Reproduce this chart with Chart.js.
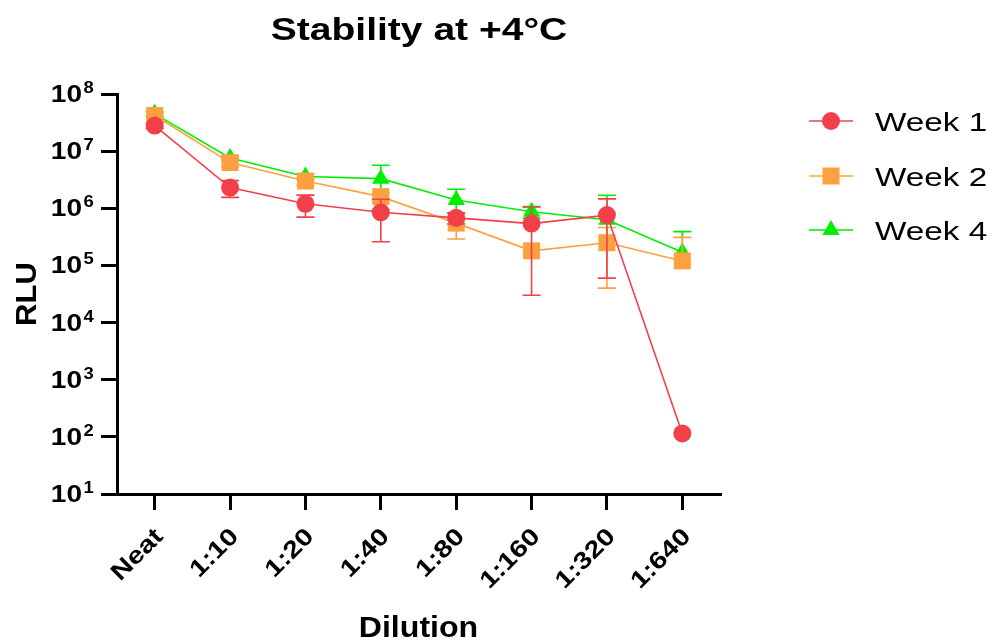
<!DOCTYPE html>
<html>
<head>
<meta charset="utf-8">
<script src="https://cdn.jsdelivr.net/npm/chart.js@4.4.1/dist/chart.umd.min.js"></script>
<style>
  html, body { margin: 0; padding: 0; background: #ffffff; }
  #wrap { width: 993px; height: 643px; position: relative; }
</style>
</head>
<body>
<div id="wrap"><canvas id="c"></canvas></div>
<script>
// ---- data ----
const categories = ['Neat', '1:10', '1:20', '1:40', '1:80', '1:160', '1:320', '1:640'];
const seriesNames = ['Week 1', 'Week 2', 'Week 4'];
const week1 = [2.8e7, 2.3e6, 1.2e6, 8.5e5, 6.8e5, 5.4e5, 7.6e5, 115];
const week1SD = [3e6, 7.5e5, 5e5, 5.9e5, 1.5e5, 5.1e5, 7.0e5, 0];
const week2 = [4.2e7, 6.3e6, 3.0e6, 1.6e6, 5.5e5, 1.8e5, 2.5e5, 1.2e5];
const week2SD = [4e6, 1e6, 5e5, 3e5, 2.6e5, 0, 2.1e5, 1.9e5];
const week4 = [4.5e7, 7.6e6, 3.6e6, 3.3e6, 1.4e6, 8.7e5, 6.3e5, 1.7e5];
const week4SD = [4e6, 5e5, 4e5, 2.35e6, 7.5e5, 2e5, 1.06e6, 2.2e5];
const yTickExponents = [1, 2, 3, 4, 5, 6, 7, 8];
const titleText = 'Stability at +4\u00B0C';
const xTitle = 'Dilution';
const yTitle = 'RLU';

const colors = ['#F2404A', '#FFA040', '#00EE00'];
const styles = ['circle', 'rect', 'triangle'];
const radii = [9, 12, 10];
const sds = [week1SD, week2SD, week4SD];

const FONT = "'Liberation Sans', Arial, sans-serif";

function drawText(ctx, text, x, y, o) {
  ctx.save();
  ctx.translate(x, y);
  if (o.rot) ctx.rotate(o.rot);
  ctx.scale(o.sx || 1, 1);
  ctx.font = o.font;
  ctx.fillStyle = o.color || '#000';
  ctx.textAlign = o.align || 'left';
  ctx.textBaseline = o.baseline || 'alphabetic';
  ctx.fillText(text, 0, 0);
  ctx.restore();
}

const errorBars = {
  id: 'errorBars',
  beforeDatasetDraw(chart, args) {
    const i = args.index;
    const ctx = chart.ctx;
    const meta = chart.getDatasetMeta(i);
    const ys = chart.scales.y;
    const data = chart.data.datasets[i].data;
    ctx.save();
    ctx.strokeStyle = colors[i];
    ctx.lineWidth = 1.6;
    const cap = 9;
    meta.data.forEach((pt, j) => {
      const m = data[j], sd = sds[i][j];
      if (!sd) return;
      const x = pt.x, y = pt.y;
      const yHi = ys.getPixelForValue(m + sd);
      ctx.beginPath();
      ctx.moveTo(x, y); ctx.lineTo(x, yHi);
      ctx.moveTo(x - cap, yHi); ctx.lineTo(x + cap, yHi);
      if (m - sd > 0) {
        const yLo = ys.getPixelForValue(m - sd);
        ctx.moveTo(x, y); ctx.lineTo(x, yLo);
        ctx.moveTo(x - cap, yLo); ctx.lineTo(x + cap, yLo);
      }
      ctx.stroke();
    });
    ctx.restore();
  }
};

const texts = {
  id: 'texts',
  afterDraw(chart) {
    const ctx = chart.ctx;
    const ca = chart.chartArea;
    const xs = chart.scales.x, ys = chart.scales.y;
    // title
    drawText(ctx, titleText, 419, 40, { font: 'bold 32px ' + FONT, align: 'center', sx: 1.22 });
    // y tick labels
    yTickExponents.forEach(e => {
      const y = ys.getPixelForValue(Math.pow(10, e));
      drawText(ctx, '10', 82, y + 8, { font: 'bold 23px ' + FONT, align: 'right', sx: 1.22 });
      drawText(ctx, String(e), 83.5, y - 1, { font: 'bold 16px ' + FONT, align: 'left', sx: 1.15 });
    });
    // x tick labels
    categories.forEach((c, j) => {
      const x = xs.getPixelForValue(j);
      drawText(ctx, c, x + 5, 533, { font: 'bold 24px ' + FONT, align: 'right', baseline: 'middle', rot: -Math.PI / 4, sx: 1.2 });
    });
    // axis titles
    drawText(ctx, xTitle, (ca.left + ca.right) / 2, 637, { font: 'bold 30px ' + FONT, align: 'center', sx: 1.07 });
    drawText(ctx, yTitle, 36, (ca.top + ca.bottom) / 2, { font: 'bold 29px ' + FONT, align: 'center', rot: -Math.PI / 2, sx: 1.07 });
    // legend
    const ly = [121, 176, 230];
    seriesNames.forEach((n, i) => {
      ctx.save();
      ctx.strokeStyle = colors[i];
      ctx.fillStyle = colors[i];
      ctx.lineWidth = 1.6;
      ctx.beginPath();
      ctx.moveTo(809, ly[i]); ctx.lineTo(853, ly[i]);
      ctx.stroke();
      Chart.helpers.drawPoint(ctx, { pointStyle: styles[i], radius: radii[i], rotation: 0, borderWidth: 0 }, 831, ly[i]);
      ctx.restore();
      drawText(ctx, n, 875, ly[i] + 10, { font: '26px ' + FONT, align: 'left', sx: 1.28 });
    });
  }
};

const seriesData = [week1, week2, week4];
const datasets = seriesData.map((d, i) => ({
  label: seriesNames[i],
  data: d,
  borderColor: colors[i],
  backgroundColor: colors[i],
  borderWidth: 1.6,
  pointStyle: styles[i],
  pointRadius: radii[i],
  pointHoverRadius: radii[i],
  pointBorderWidth: 0,
  pointBackgroundColor: colors[i],
  tension: 0,
  clip: false
}));

new Chart(document.getElementById('c'), {
  type: 'line',
  data: { labels: categories, datasets },
  options: {
    responsive: true,
    maintainAspectRatio: false,
    animation: false,
    events: [],
    layout: { padding: { left: 0, top: 94, right: 273, bottom: 0 } },
    plugins: { legend: { display: false }, title: { display: false }, tooltip: { enabled: false } },
    scales: {
      x: {
        type: 'category',
        offset: true,
        grid: { display: true, drawOnChartArea: false, drawTicks: true, tickLength: 16, lineWidth: 3, color: '#000', offset: false },
        border: { display: true, width: 3, color: '#000' },
        ticks: { display: false },
        afterFit(s) { s.height = 149; }
      },
      y: {
        type: 'logarithmic',
        min: 10,
        max: 1e8,
        grid: { display: true, drawOnChartArea: false, drawTicks: true, tickLength: 16, lineWidth: 3, color: '#000' },
        border: { display: true, width: 3, color: '#000' },
        ticks: { display: false },
        afterBuildTicks(s) { s.ticks = yTickExponents.map(e => ({ value: Math.pow(10, e) })); },
        afterFit(s) { s.width = 117; }
      }
    }
  },
  plugins: [errorBars, texts]
});
</script>
</body>
</html>
